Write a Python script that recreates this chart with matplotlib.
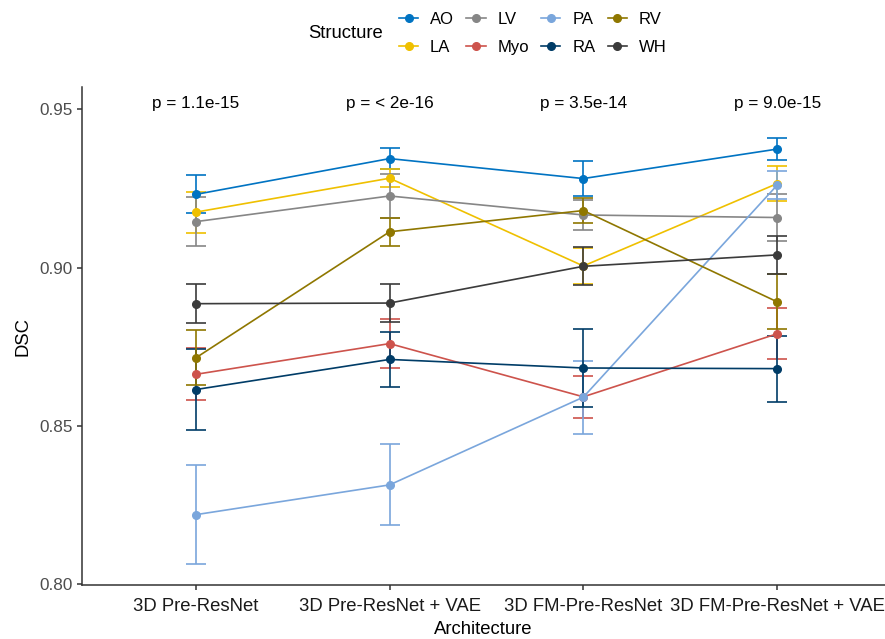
import matplotlib
matplotlib.use("Agg")
import matplotlib.pyplot as plt
from matplotlib.lines import Line2D

plt.rcParams['font.family'] = ['Liberation Sans', 'DejaVu Sans']

architectures = ["3D Pre-ResNet", "3D Pre-ResNet + VAE", "3D FM-Pre-ResNet", "3D FM-Pre-ResNet + VAE"]
structures = ["AO", "LA", "LV", "Myo", "PA", "RA", "RV", "WH"]
colors = ["#0073C2", "#EFC000", "#868686", "#CD534C", "#7AA6DC", "#003C67", "#8F7700", "#3B3B3B"]

mean_AO = [0.9231, 0.9344, 0.9281, 0.9374]
err_AO = [0.0060, 0.0032, 0.0056, 0.0036]
mean_LA = [0.9175, 0.9282, 0.9005, 0.9265]
err_LA = [0.0065, 0.0029, 0.0056, 0.0056]
mean_LV = [0.9145, 0.9226, 0.9166, 0.9158]
err_LV = [0.0078, 0.0070, 0.0048, 0.0074]
mean_Myo = [0.8663, 0.8760, 0.8592, 0.8791]
err_Myo = [0.0082, 0.0077, 0.0066, 0.0080]
mean_PA = [0.8220, 0.8314, 0.8591, 0.9260]
err_PA = [0.0157, 0.0128, 0.0115, 0.0044]
mean_RA = [0.8615, 0.8710, 0.8683, 0.8681]
err_RA = [0.0128, 0.0088, 0.0122, 0.0104]
mean_RV = [0.8715, 0.9113, 0.9180, 0.8892]
err_RV = [0.0087, 0.0045, 0.0039, 0.0087]
mean_WH = [0.8886, 0.8888, 0.9004, 0.9040]
err_WH = [0.0062, 0.0060, 0.0060, 0.0061]

means = [mean_AO, mean_LA, mean_LV, mean_Myo, mean_PA, mean_RA, mean_RV, mean_WH]
errs = [err_AO, err_LA, err_LV, err_Myo, err_PA, err_RA, err_RV, err_WH]

p_labels = ["p = 1.1e-15", "p = < 2e-16", "p = 3.5e-14", "p = 9.0e-15"]

fig = plt.figure(figsize=(8.85, 6.39), dpi=100)
ax = fig.add_axes([82/885, (639-585)/639, 1 - 82/885, (585-87)/639])

x = list(range(1, len(architectures) + 1))
for name, m, e, c in zip(structures, means, errs, colors):
    ax.errorbar(x, m, yerr=e, color=c, lw=1.2, capsize=7, capthick=1.2,
                marker='o', markersize=5.5, label=name)

for xi, lab in zip(x, p_labels):
    ax.text(xi, 0.9519, lab, ha='center', va='center', fontsize=12.3, color='black')

ax.set_xlim(0.4124, 4.557)
ax.set_ylim(0.7998, 0.957)
ax.set_xticks(x)
ax.set_xticklabels(architectures, fontsize=13.3, color='#1a1a1a')
ax.set_yticks([0.80, 0.85, 0.90, 0.95])
ax.set_yticklabels(["0.80", "0.85", "0.90", "0.95"], fontsize=12.3, color='#4d4d4d')
ax.set_xlabel("Architecture", fontsize=13.3, labelpad=4)
ax.set_ylabel("DSC", fontsize=13.3, labelpad=6)
for s in ['top', 'right']:
    ax.spines[s].set_visible(False)
for s in ['left', 'bottom']:
    ax.spines[s].set_linewidth(1.1)
    ax.spines[s].set_color('#333333')
ax.tick_params(axis='both', length=3.5, width=1.1, color='#333333', pad=3)
ax.tick_params(axis='x', pad=6)

handles = [Line2D([0], [0], color=c, lw=1.2, marker='o', markersize=5.5) for c in colors]
fig.legend(handles, structures, ncol=4, loc='center left', bbox_to_anchor=(384/885, 1 - 33.5/639),
           frameon=False, fontsize=12, handlelength=1.15, handletextpad=0.7,
           columnspacing=0.75, labelspacing=0.8)
fig.text(308/885, 1 - 33/639, "Structure", ha='left', va='center', fontsize=13.3)

fig.savefig("out.png", dpi=100)
